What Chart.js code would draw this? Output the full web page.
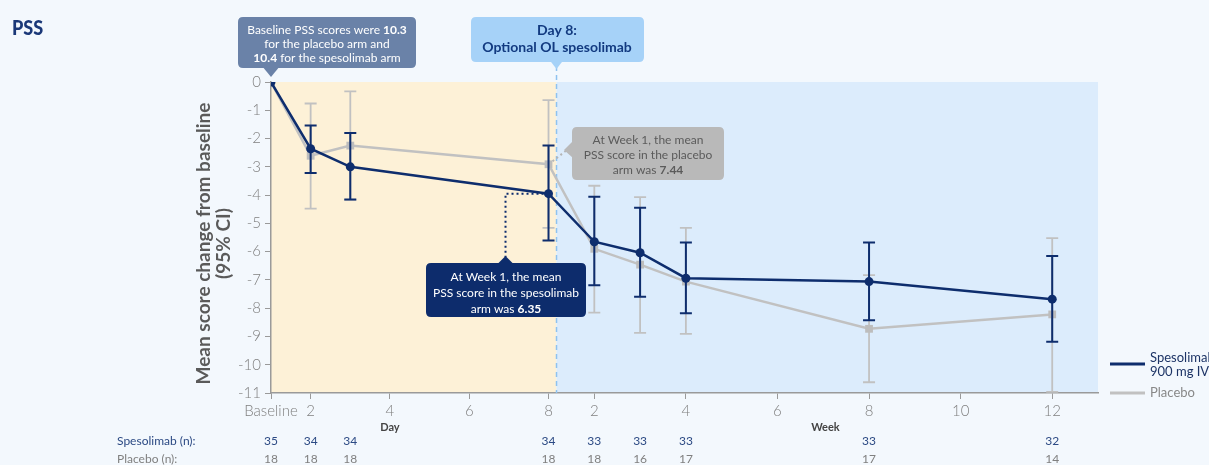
<!DOCTYPE html>
<html>
<head>
<meta charset="utf-8">
<script src="https://cdn.jsdelivr.net/npm/chart.js@4.4.1/dist/chart.umd.min.js"></script>
<style>
  html, body { margin: 0; padding: 0; background: #f3f8fd; }
  #wrap { position: relative; width: 1209px; height: 465px; overflow: hidden; }
  canvas { display: block; }
</style>
</head>
<body>
<div id="wrap"><canvas id="chart" width="1209" height="465"></canvas></div>
<script>
// Timepoints (study day; Week w = day 7w + 1)
const timepoints = ['Baseline', 'Day 2', 'Day 3', 'Day 8', 'Week 2', 'Week 3', 'Week 4', 'Week 8', 'Week 12'];
const studyDay   = [1, 2, 3, 8, 15, 22, 29, 57, 85];

// Mean change from baseline in PSS with 95% CI
const spesoMean = [0, -2.36, -3.00, -3.95, -5.65, -6.04, -6.94, -7.06, -7.68];
const spesoLow  = [null, -3.22, -4.16, -5.61, -7.19, -7.60, -8.18, -8.43, -9.19];
const spesoHigh = [null, -1.54, -1.80, -2.25, -4.06, -4.45, -5.68, -5.68, -6.15];

const placeboMean = [0, -2.61, -2.25, -2.91, -5.90, -6.46, -7.06, -8.73, -8.22];
const placeboLow  = [null, -4.48, -4.17, -5.16, -8.16, -8.87, -8.91, -10.62, -10.96];
const placeboHigh = [null, -0.76, -0.33, -0.64, -3.67, -4.07, -5.16, -6.83, -5.52];

// Patients contributing at each timepoint
const spesoN   = [35, 34, 34, 34, 33, 33, 33, 33, 32];
const placeboN = [18, 18, 18, 18, 18, 16, 17, 17, 14];

// Axis ticks
const tickDays   = [1, 2, 4, 6, 8, 15, 29, 43, 57, 71, 85];
const tickLabels = ['Baseline', '2', '4', '6', '8', '2', '4', '6', '8', '10', '12'];
const yTicks = [0, -1, -2, -3, -4, -5, -6, -7, -8, -9, -10, -11];

const NAVY = '#0e2d6d';
const GREY = '#c1c1c1';
const FONT = 'Lato, "Open Sans", sans-serif';

// Days 1-8 are spaced by day, afterwards by week (wider spacing per week)
const WEEK_UNIT = 1.155;
function axisPos(day) {
  return day <= 8 ? day - 1 : 7 + (day - 8) / 7 * WEEK_UNIT;
}
const X_MAX = axisPos(92);

function points(means) {
  return studyDay.map((d, i) => ({ x: axisPos(d), y: means[i] }));
}

// ---- drawing helpers ----
function roundRect(ctx, x, y, w, h, r) {
  ctx.beginPath();
  ctx.moveTo(x + r, y);
  ctx.lineTo(x + w - r, y);
  ctx.quadraticCurveTo(x + w, y, x + w, y + r);
  ctx.lineTo(x + w, y + h - r);
  ctx.quadraticCurveTo(x + w, y + h, x + w - r, y + h);
  ctx.lineTo(x + r, y + h);
  ctx.quadraticCurveTo(x, y + h, x, y + h - r);
  ctx.lineTo(x, y + r);
  ctx.quadraticCurveTo(x, y, x + r, y);
  ctx.closePath();
}
function tri(ctx, a, b, c) {
  ctx.beginPath();
  ctx.moveTo(a[0], a[1]); ctx.lineTo(b[0], b[1]); ctx.lineTo(c[0], c[1]);
  ctx.closePath();
}
// one centred line made of plain/bold runs
function richLine(ctx, runs, cx, y, size, color) {
  let total = 0;
  const widths = runs.map(r => {
    ctx.font = (r.b ? 'bold ' : '') + size + 'px ' + FONT;
    const w = ctx.measureText(r.t).width;
    total += w;
    return w;
  });
  let x = cx - total / 2;
  ctx.fillStyle = color;
  ctx.textAlign = 'left';
  ctx.textBaseline = 'middle';
  runs.forEach((r, i) => {
    ctx.font = (r.b ? 'bold ' : '') + size + 'px ' + FONT;
    ctx.fillText(r.t, x, y);
    x += widths[i];
  });
}

// ---- plugins ----
const backdrop = {
  id: 'backdrop',
  beforeDraw(chart) {
    const { ctx, chartArea: a, scales: { x } } = chart;
    ctx.save();
    ctx.fillStyle = '#f3f8fd';
    ctx.fillRect(0, 0, chart.width, chart.height);
    const split = x.getPixelForValue(axisPos(8)) + 8;
    ctx.fillStyle = '#fdf1d7';
    ctx.fillRect(a.left, a.top, split - a.left, a.bottom - a.top);
    ctx.fillStyle = '#dcecfc';
    ctx.fillRect(split, a.top, a.right - split, a.bottom - a.top);
    ctx.restore();
  },
  beforeDatasetsDraw(chart) {
    const { ctx, chartArea: a, scales: { x } } = chart;
    const split = x.getPixelForValue(axisPos(8)) + 8;
    ctx.save();
    ctx.strokeStyle = '#8ec2f0';
    ctx.lineWidth = 1.5;
    ctx.setLineDash([5, 4]);
    ctx.beginPath();
    ctx.moveTo(split, 66);
    ctx.lineTo(split, a.bottom);
    ctx.stroke();
    ctx.restore();
  }
};

const errorBars = {
  id: 'errorBars',
  beforeDatasetDraw(chart, args) {
    const ds = chart.data.datasets[args.index];
    const { ctx, scales: { x, y } } = chart;
    ctx.save();
    ctx.strokeStyle = ds.borderColor;
    ctx.lineWidth = ds.errWidth;
    studyDay.forEach((d, i) => {
      const lo = ds.ciLow[i], hi = ds.ciHigh[i];
      if (lo == null) return;
      const px = x.getPixelForValue(axisPos(d));
      const y1 = y.getPixelForValue(hi), y2 = y.getPixelForValue(lo);
      ctx.beginPath();
      ctx.moveTo(px, y1); ctx.lineTo(px, y2);
      ctx.moveTo(px - 6, y1); ctx.lineTo(px + 6, y1);
      ctx.moveTo(px - 6, y2); ctx.lineTo(px + 6, y2);
      ctx.stroke();
    });
    ctx.restore();
  }
};

const annotations = {
  id: 'annotations',
  afterDraw(chart) {
    const { ctx, chartArea: a, scales: { x, y } } = chart;
    ctx.save();

    // Title
    ctx.save();
    ctx.translate(12, 28);
    ctx.scale(0.86, 1);
    ctx.fillStyle = '#1a3878';
    ctx.font = '900 21px ' + FONT;
    ctx.textAlign = 'left';
    ctx.textBaseline = 'middle';
    ctx.fillText('PSS', 0, 0);
    ctx.restore();

    // Y axis title
    ctx.save();
    ctx.translate(204, (a.top + a.bottom) / 2 + 6);
    ctx.rotate(-Math.PI / 2);
    ctx.fillStyle = '#5a5a5a';
    ctx.font = 'bold 19px ' + FONT;
    ctx.textAlign = 'center';
    ctx.textBaseline = 'middle';
    ctx.fillText('Mean score change from baseline', 0, 0);
    ctx.fillText('(95% CI)', 0, 20);
    ctx.restore();

    // Axis sub-labels
    ctx.fillStyle = '#444';
    ctx.font = 'bold 11px ' + FONT;
    ctx.textAlign = 'center';
    ctx.textBaseline = 'middle';
    ctx.fillText('Day', x.getPixelForValue(axisPos(4)), 427);
    ctx.fillText('Week', x.getPixelForValue(axisPos(43)) + 48, 427);

    // Patients at risk table
    ctx.font = '12px ' + FONT;
    ctx.textAlign = 'left';
    ctx.fillStyle = '#2c4a84';
    ctx.fillText('Spesolimab (n):', 117, 441);
    ctx.fillStyle = '#808080';
    ctx.fillText('Placebo (n):', 117, 459);
    ctx.textAlign = 'center';
    studyDay.forEach((d, i) => {
      const px = x.getPixelForValue(axisPos(d));
      ctx.fillStyle = '#2c4a84';
      ctx.fillText(String(spesoN[i]), px, 441);
      ctx.fillStyle = '#808080';
      ctx.fillText(String(placeboN[i]), px, 459);
    });

    // Legend
    ctx.lineWidth = 3;
    ctx.strokeStyle = NAVY;
    ctx.beginPath(); ctx.moveTo(1110, 364); ctx.lineTo(1145, 364); ctx.stroke();
    ctx.strokeStyle = GREY;
    ctx.beginPath(); ctx.moveTo(1110, 393); ctx.lineTo(1145, 393); ctx.stroke();
    ctx.font = '13px ' + FONT;
    ctx.textAlign = 'left';
    ctx.fillStyle = '#1d3466';
    ctx.fillText('Spesolimab', 1150, 358);
    ctx.fillText('900 mg IV', 1150, 372);
    ctx.fillStyle = '#888';
    ctx.fillText('Placebo', 1150, 393);

    // Baseline note
    const bx = x.getPixelForValue(axisPos(1));
    ctx.fillStyle = '#6a82a8';
    roundRect(ctx, 238, 17, 178, 51, 5); ctx.fill();
    tri(ctx, [bx - 9, 66], [bx + 9, 66], [bx, 77]); ctx.fill();
    richLine(ctx, [{ t: 'Baseline PSS scores were ' }, { t: '10.3', b: true }], 327, 30, 12, '#fff');
    richLine(ctx, [{ t: 'for the placebo arm and' }], 327, 44, 12, '#fff');
    richLine(ctx, [{ t: '10.4', b: true }, { t: ' for the spesolimab arm' }], 327, 58, 12, '#fff');

    // Open-label note
    const split = x.getPixelForValue(axisPos(8)) + 8;
    ctx.fillStyle = '#a6d2f8';
    roundRect(ctx, 471, 17, 173, 45, 5); ctx.fill();
    tri(ctx, [split - 7, 60], [split + 7, 60], [split, 69]); ctx.fill();
    richLine(ctx, [{ t: 'Day 8:', b: true }], 557, 30, 14, '#123a80');
    richLine(ctx, [{ t: 'Optional OL spesolimab', b: true }], 557, 47, 14, '#123a80');

    // Week 1 placebo note
    const w1x = x.getPixelForValue(axisPos(8));
    const py = y.getPixelForValue(placeboMean[3]);
    ctx.strokeStyle = '#b5b5b5';
    ctx.lineWidth = 2;
    ctx.setLineDash([2, 3]);
    ctx.beginPath(); ctx.moveTo(w1x + 4, py - 3); ctx.lineTo(567, 150); ctx.stroke();
    ctx.setLineDash([]);
    ctx.fillStyle = '#b9b9b9';
    roundRect(ctx, 572, 127, 152, 53, 5); ctx.fill();
    tri(ctx, [573, 141], [573, 158], [564, 150]); ctx.fill();
    richLine(ctx, [{ t: 'At Week 1, the mean' }], 648, 140, 12, '#5b5b5b');
    richLine(ctx, [{ t: 'PSS score in the placebo' }], 648, 155, 12, '#5b5b5b');
    richLine(ctx, [{ t: 'arm was ' }, { t: '7.44', b: true }], 648, 170, 12, '#5b5b5b');

    // Week 1 spesolimab note
    const sy = y.getPixelForValue(spesoMean[3]);
    const cx4 = w1x - 43;
    ctx.strokeStyle = NAVY;
    ctx.lineWidth = 2;
    ctx.setLineDash([2, 3]);
    ctx.beginPath();
    ctx.moveTo(w1x - 5, sy); ctx.lineTo(cx4, sy); ctx.lineTo(cx4, 257);
    ctx.stroke();
    ctx.setLineDash([]);
    ctx.fillStyle = '#0d2c6c';
    roundRect(ctx, 426, 263, 160, 54, 5); ctx.fill();
    tri(ctx, [cx4 - 8, 264], [cx4 + 8, 264], [cx4, 256]); ctx.fill();
    richLine(ctx, [{ t: 'At Week 1, the mean' }], 506, 277, 12, '#fff');
    richLine(ctx, [{ t: 'PSS score in the spesolimab' }], 506, 293, 12, '#fff');
    richLine(ctx, [{ t: 'arm was ' }, { t: '6.35', b: true }], 506, 309, 12, '#fff');

    ctx.restore();
  }
};

new Chart(document.getElementById('chart'), {
  type: 'line',
  data: {
    datasets: [
      {
        label: 'Spesolimab 900 mg IV',
        data: points(spesoMean),
        ciLow: spesoLow, ciHigh: spesoHigh, errWidth: 2,
        borderColor: NAVY, backgroundColor: NAVY,
        borderWidth: 2.5, pointRadius: 4.5, pointStyle: 'circle',
        pointBorderWidth: 0, tension: 0
      },
      {
        label: 'Placebo',
        data: points(placeboMean),
        ciLow: placeboLow, ciHigh: placeboHigh, errWidth: 1.8,
        borderColor: GREY, backgroundColor: '#bdbdbd',
        borderWidth: 2.5, pointRadius: 5.5, pointStyle: 'rect',
        pointBorderWidth: 0, tension: 0
      }
    ]
  },
  options: {
    responsive: false,
    animation: false,
    devicePixelRatio: 1,
    layout: { padding: { left: 0, top: 82, right: 111, bottom: 0 } },
    plugins: { legend: { display: false }, tooltip: { enabled: false } },
    scales: {
      x: {
        type: 'linear',
        min: 0, max: X_MAX,
        afterFit(s) { s.height = 72; },
        afterBuildTicks(s) { s.ticks = tickDays.map(d => ({ value: axisPos(d) })); },
        ticks: {
          autoSkip: false, maxRotation: 0, padding: 3,
          color: '#808080', font: { family: FONT, size: 15, weight: '300' },
          callback: (v, i) => tickLabels[i]
        },
        grid: { drawOnChartArea: false, drawTicks: true, tickLength: 6, color: '#9a9a9a' },
        border: { color: '#9a9a9a', width: 1.5 }
      },
      y: {
        type: 'linear',
        min: -11, max: 0,
        afterFit(s) { s.width = 271; },
        afterBuildTicks(s) { s.ticks = yTicks.map(v => ({ value: v })); },
        ticks: {
          color: '#808080', font: { family: FONT, size: 15, weight: '300' }, padding: 4
        },
        grid: { drawOnChartArea: false, drawTicks: true, tickLength: 6, color: '#9a9a9a' },
        border: { color: '#9a9a9a', width: 1.5 }
      }
    }
  },
  plugins: [backdrop, errorBars, annotations]
});
</script>
</body>
</html>
